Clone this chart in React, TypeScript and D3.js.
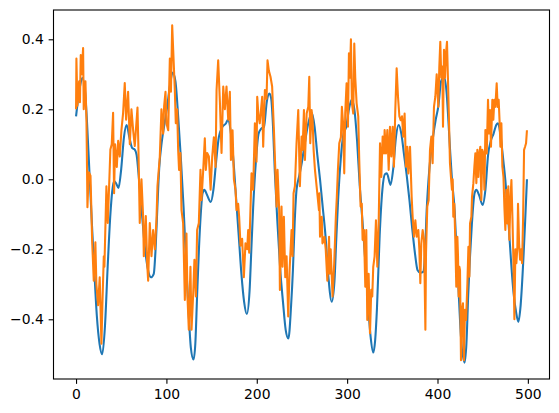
import React, { useEffect, useRef } from 'react';
import * as d3 from 'd3';

// smooth signal as [x, value]
const blueSeries: [number, number][] = [
  [0, 0.18], [4, 0.26], [7, 0.29], [10, 0.25], [12, 0.17], [15, 0.01], [18, -0.15], [20, -0.25],
  [23, -0.39], [26, -0.47], [29, -0.5], [32, -0.42], [35, -0.25], [38, -0.1], [40, -0.035], [42, -0.005],
  [44, -0.01], [47, -0.025], [50, 0.03], [53, 0.12], [56, 0.155], [59, 0.12], [62, 0.09], [65, 0.085],
  [67, 0.07], [70, -0.01], [73, -0.1], [76, -0.19], [79, -0.25], [83, -0.28], [86, -0.27], [88, -0.2],
  [90, -0.08], [92, 0.03], [95, 0.11], [98, 0.16], [101, 0.21], [104, 0.27], [107, 0.305], [110, 0.28],
  [113, 0.18], [116, 0.06], [119, -0.08], [122, -0.25], [125, -0.4], [127, -0.48], [130, -0.515], [132, -0.47],
  [134, -0.33], [136, -0.2], [138, -0.1], [140, -0.04], [142, -0.03], [145, -0.045], [149, -0.065], [152, -0.03],
  [155, 0.05], [158, 0.12], [162, 0.15], [166, 0.16], [168, 0.17], [171, 0.14], [174, 0.06], [177, -0.05],
  [180, -0.16], [183, -0.27], [186, -0.35], [189, -0.385], [192, -0.32], [194, -0.2], [196, -0.08], [199, 0.05],
  [202, 0.13], [205, 0.145], [208, 0.15], [211, 0.22], [214, 0.245], [216, 0.23], [218, 0.15], [220, 0.02],
  [223, -0.13], [226, -0.26], [229, -0.35], [232, -0.43], [235, -0.455], [238, -0.36], [240, -0.26], [242, -0.12],
  [244, -0.03], [247, 0.01], [250, 0.05], [253, 0.1], [257, 0.16], [261, 0.19], [264, 0.15], [267, 0.07],
  [270, 0.0], [273, -0.08], [276, -0.16], [279, -0.27], [283, -0.35], [286, -0.29], [288, -0.17], [290, -0.06],
  [293, 0.06], [296, 0.13], [299, 0.15], [302, 0.2], [305, 0.227], [308, 0.2], [311, 0.11], [314, -0.02],
  [317, -0.12], [320, -0.23], [323, -0.35], [326, -0.45], [329, -0.495], [331, -0.46], [333, -0.37], [336, -0.16],
  [339, -0.03], [342, 0.015], [344, 0.017], [348, -0.016], [351, 0.03], [354, 0.12], [357, 0.155], [360, 0.13],
  [363, 0.07], [366, 0.01], [369, -0.06], [372, -0.14], [375, -0.21], [378, -0.26], [381, -0.267], [384, -0.265],
  [386, -0.22], [388, -0.09], [391, 0.03], [395, 0.12], [398, 0.17], [401, 0.21], [404, 0.28], [407, 0.293],
  [410, 0.25], [412, 0.17], [414, 0.08], [416, 0.0], [419, -0.09], [421, -0.2], [423, -0.3], [426, -0.45],
  [430, -0.524], [432, -0.47], [434, -0.33], [436, -0.22], [438, -0.13], [441, -0.04], [443, -0.03], [446, -0.045],
  [450, -0.073], [453, -0.03], [456, 0.07], [459, 0.11], [462, 0.13], [465, 0.155], [467, 0.16], [470, 0.12],
  [473, 0.05], [475, 0.0], [478, -0.1], [480, -0.18], [484, -0.32], [487, -0.38], [489.5, -0.407], [492, -0.36],
  [495, -0.23], [497, -0.12], [499, 0.0],
];

// noisy signal as [x, value]
const orangeSeries: [number, number][] = [
  [0, 0.2], [0.4, 0.345], [1.5, 0.21], [3.4, 0.28], [4.3, 0.22], [5.2, 0.355], [6.3, 0.3], [7.8, 0.375],
  [8.5, 0.2], [10.4, 0.28], [11.5, 0.17], [12.2, 0.02], [12.6, -0.08], [14.1, 0.02], [16, 0.01], [17.8, -0.175],
  [19.6, -0.29], [21.4, -0.18], [22.5, -0.3], [24.4, -0.36], [26.2, -0.28], [28.1, -0.47], [29.2, -0.355], [30.7, -0.22],
  [31.4, -0.25], [33.6, -0.02], [35.1, -0.125], [36.6, -0.02], [38, 0.085], [39.5, 0.1], [41, 0.19], [42.1, -0.04],
  [43.2, 0.1], [45.1, 0.035], [46.6, 0.11], [48.4, 0.065], [50.2, 0.14], [52.1, 0.19], [53.9, 0.275], [55.4, 0.17],
  [57.6, 0.25], [59.5, 0.1], [61.3, 0.2], [63.2, 0.14], [65, 0.095], [68, 0.205], [69.1, 0.08], [70.5, -0.125],
  [72.4, 0.0], [74.2, -0.105], [75, -0.22], [77.2, -0.105], [78.7, -0.24], [79.8, -0.29], [81.6, -0.125], [83.5, -0.22],
  [85.3, -0.145], [87.2, -0.2], [89, -0.115], [90.1, -0.02], [92.7, 0.065], [94.5, 0.2], [96.4, 0.13], [97.5, 0.21],
  [99, 0.25], [100, 0.16], [102, 0.14], [103.8, 0.345], [105, 0.25], [106.4, 0.44], [107.5, 0.37], [109.3, 0.255],
  [110.4, 0.16], [111.9, 0.2], [113, 0.084], [114, 0.027], [115.5, 0.075], [116.7, -0.088], [118.5, -0.125], [120.4, -0.345],
  [122.2, -0.155], [123.3, -0.335], [124.8, -0.43], [126.6, -0.25], [127.8, -0.43], [129.6, -0.33], [131, -0.23], [132.6, -0.335],
  [134, -0.145], [135.9, -0.125], [137.7, 0.027], [138.8, -0.06], [140.6, 0.02], [142.5, 0.117], [143.6, 0.027], [145.1, 0.075],
  [147, 0.065], [148.9, -0.03], [150.7, 0.065], [152.5, 0.12], [154.4, 0.035], [155.5, 0.255], [157.3, 0.34], [159.2, 0.22],
  [161, 0.075], [162.9, 0.265], [164.7, 0.2], [166.5, 0.265], [168.4, 0.17], [170.2, 0.25], [171.4, 0.055], [173.2, 0.14],
  [174.7, 0.0], [176.5, -0.03], [177.6, -0.088], [179.4, -0.07], [180.5, -0.107], [182, -0.19], [183.8, -0.17], [185.7, -0.28],
  [187.5, -0.183], [189.4, -0.2], [190.5, -0.145], [191.6, -0.21], [194.2, 0.017], [196, -0.03], [197.9, 0.16], [199.7, 0.05],
  [200.5, 0.236], [201.9, 0.18], [203.3, 0.16], [206, 0.236], [207.1, 0.093], [209, 0.255], [210.8, 0.23], [211.9, 0.34],
  [213.4, 0.31], [215.2, 0.293], [217, 0.265], [219, 0.14], [220.8, 0.007], [221.9, -0.078], [223, 0.027], [224.8, -0.088],
  [225.6, -0.316], [227.4, -0.078], [228.5, -0.25], [230, -0.107], [231.5, -0.28], [233, -0.22], [234.8, -0.392], [236.3, -0.26],
  [238.5, -0.145], [239.6, -0.22], [240.7, -0.04], [242.2, -0.02], [244, 0.103], [245.9, 0.198], [247.7, -0.02], [249.6, 0.122],
  [250.7, 0.084], [252.2, 0.198], [253.3, 0.055], [255.2, 0.188], [257, 0.207], [258.1, 0.293], [259.2, 0.103], [260.7, 0.198],
  [261.8, 0.168], [262.9, 0.084], [264.4, 0.027], [267, -0.04], [268.8, -0.088], [269.3, -0.04], [270, -0.164], [271.9, -0.107],
  [272.7, -0.183], [274.9, -0.164], [276.3, -0.2], [278.1, -0.29], [280, -0.164], [280.7, -0.27], [281.8, -0.2], [283.9, -0.335],
  [285.7, -0.24], [287.5, -0.107], [288.6, -0.05], [289.8, 0.027], [291.3, 0.103], [293.1, 0.12], [294.2, 0.207], [295.5, 0.16],
  [296.8, 0.017], [297.9, 0.19], [299.4, 0.274], [300.9, 0.15], [302, 0.36], [303, 0.29], [304.2, 0.4], [305.3, 0.217],
  [306.8, 0.188], [307.9, 0.388], [309, 0.29], [310.5, 0.217], [312.3, 0.18], [313.4, 0.055], [314.9, -0.078], [316.2, -0.07],
  [317.1, -0.173], [318.6, -0.145], [320.1, -0.307], [321.2, -0.145], [322.3, -0.402], [323.8, -0.27], [325.3, -0.44], [326.7, -0.316],
  [327.8, -0.335], [328.9, -0.25], [330.4, -0.22], [331.9, -0.117], [333.4, -0.25], [334.9, -0.126], [336.4, 0.103], [337.8, 0.007],
  [339.3, 0.122], [340.8, 0.074], [341.5, 0.141], [343, 0.074], [344.5, 0.141], [346, 0.027], [347.4, 0.15], [348.9, 0.065],
  [350.4, 0.15], [351.8, 0.036], [353.3, 0.198], [354.8, 0.317], [356.3, 0.236], [357.8, 0.18], [359.2, 0.169], [360.7, 0.18],
  [362.1, 0.122], [363.6, 0.188], [365.1, 0.036], [366.6, 0.093], [367.7, 0.017], [369.6, 0.093], [371.4, -0.05], [372.5, -0.107],
  [374, -0.164], [375.5, -0.117], [377, -0.164], [378.8, -0.145], [379.9, -0.2], [381, -0.297], [382.1, -0.183], [383.6, -0.145],
  [385.1, -0.173], [386.6, -0.43], [387.3, -0.21], [388.7, -0.078], [390.2, -0.06], [391.7, 0.084], [393.2, 0.122], [394.6, 0.046],
  [396.1, 0.207], [397.6, 0.236], [399.1, 0.3], [400.9, 0.207], [402, 0.32], [403.1, 0.393], [404.2, 0.29], [405.3, 0.322],
  [406.1, 0.15], [407.2, 0.37], [408.3, 0.29], [409.4, 0.36], [410.5, 0.393], [411.6, 0.284], [412.7, 0.17], [413.8, 0.046],
  [414.9, 0.007], [416, -0.03], [416.8, 0.0], [417.5, -0.107], [418.6, -0.07], [419.7, -0.173], [420.8, -0.307], [422, -0.164],
  [422.7, -0.22], [423.4, -0.335], [424.2, -0.25], [424.9, -0.26], [426, -0.517], [427.1, -0.373], [428.2, -0.354], [429.3, -0.517],
  [430.4, -0.373], [431.6, -0.402], [433.1, -0.297], [434.2, -0.193], [435.3, -0.278], [436, -0.126], [437.5, -0.107], [438.2, -0.05],
  [439.7, -0.011], [440.8, 0.036], [441.9, 0.074], [443, -0.011], [444.1, 0.084], [445.2, 0.007], [446.3, 0.074], [447.4, 0.093],
  [448.5, -0.06], [449.6, 0.084], [450.8, 0.074], [451.9, -0.03], [453, 0.141], [454.5, 0.074], [455.9, 0.227], [457, 0.131],
  [458.1, 0.198], [459.2, 0.093], [460.7, 0.227], [461.8, 0.17], [462.9, 0.227], [464, 0.207], [465.5, 0.274], [466.6, 0.207],
  [467.7, 0.227], [468.8, 0.16], [469.6, 0.093], [470.7, 0.16], [471.8, 0.036], [473, 0.007], [474, -0.078], [475.1, -0.145],
  [476.2, -0.03], [477.3, -0.126], [478.4, -0.02], [479.5, -0.173], [480.7, -0.06], [481.8, -0.002], [482.9, -0.107], [484, -0.23],
  [485.1, -0.4], [486.2, -0.2], [487.3, -0.24], [488.4, -0.193], [489.1, -0.07], [490.3, -0.183], [491.4, -0.23], [492.5, -0.2],
  [493.6, -0.24], [494.7, -0.117], [495.8, 0.084], [496.9, 0.093], [498, 0.103], [499, 0.14],
];

const xTicks = [0, 100, 200, 300, 400, 500];
const yTicks = [-0.4, -0.2, 0.0, 0.2, 0.4];

const W = 559;
const H = 413;
const FONT = '"DejaVu Sans", sans-serif';

export default function App() {
  const svgRef = useRef<SVGSVGElement | null>(null);

  useEffect(() => {
    const svg = d3.select(svgRef.current);
    svg.selectAll('*').remove();

    const left = 53.5, right = 549.5, top = 10, bottom = 379;
    const x = d3.scaleLinear().domain([-24.95, 523.95]).range([left, right]);
    const y = d3.scaleLinear().domain([-0.5706, 0.4837]).range([bottom, top]);

    const line = d3.line<[number, number]>()
      .x(d => x(d[0]))
      .y(d => y(d[1]));

    svg.append('path')
      .datum(blueSeries)
      .attr('d', line.curve(d3.curveMonotoneX)(blueSeries) as string)
      .attr('fill', 'none')
      .attr('stroke', '#1f77b4')
      .attr('stroke-width', 2.08)
      .attr('stroke-linejoin', 'round');

    svg.append('path')
      .attr('d', line.curve(d3.curveLinear)(orangeSeries) as string)
      .attr('fill', 'none')
      .attr('stroke', '#ff7f0e')
      .attr('stroke-width', 2.08)
      .attr('stroke-linejoin', 'round');

    // axes
    const xAxis = d3.axisBottom(x).tickValues(xTicks).tickFormat(d3.format('d'))
      .tickSizeInner(4.86).tickSizeOuter(0).tickPadding(5.5);
    const gx = svg.append('g').attr('transform', `translate(0,${bottom})`).call(xAxis);

    const yAxis = d3.axisLeft(y).tickValues(yTicks).tickFormat(d3.format('.1f'))
      .tickSizeInner(4.86).tickSizeOuter(0).tickPadding(4.86);
    const gy = svg.append('g').attr('transform', `translate(${left},0)`).call(yAxis);

    [gx, gy].forEach(g => {
      g.select('.domain').remove();
      g.selectAll('line').attr('stroke', '#000').attr('stroke-width', 1.1);
      g.selectAll('text')
        .attr('fill', '#000')
        .style('font-family', FONT)
        .style('font-size', '13.9px');
    });

    // frame
    svg.append('rect')
      .attr('x', left)
      .attr('y', top)
      .attr('width', right - left)
      .attr('height', bottom - top)
      .attr('fill', 'none')
      .attr('stroke', '#000')
      .attr('stroke-width', 1.1);
  }, []);

  return (
    <div>
      <style>{'body{margin:0;background:#fff}'}</style>
      <svg ref={svgRef} width={W} height={H} style={{ display: 'block', background: '#fff' }} />
    </div>
  );
}
